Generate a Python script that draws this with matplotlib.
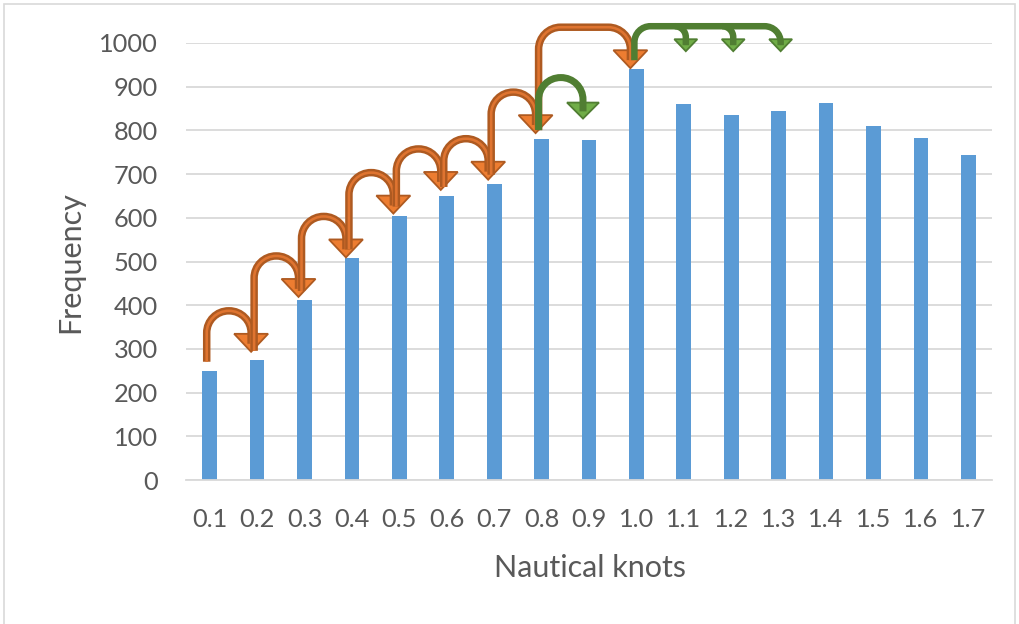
import matplotlib
matplotlib.use("Agg")
import matplotlib.pyplot as plt
import numpy as np
from matplotlib.path import Path
from matplotlib.patches import PathPatch, Polygon, Rectangle
from matplotlib.transforms import IdentityTransform

# Frequency of recorded speeds per knot bin
knots = ["0.1", "0.2", "0.3", "0.4", "0.5", "0.6", "0.7", "0.8", "0.9",
         "1.0", "1.1", "1.2", "1.3", "1.4", "1.5", "1.6", "1.7"]
frequency = [250, 275, 412, 507, 605, 650, 678, 780, 779,
             940, 860, 835, 845, 862, 810, 783, 743]
y_ticks = list(range(0, 1001, 100))

# Transition arrows between speed bins
orange_steps = [("0.1", "0.2"), ("0.2", "0.3"), ("0.3", "0.4"), ("0.4", "0.5"),
                ("0.5", "0.6"), ("0.6", "0.7"), ("0.7", "0.8"), ("0.8", "1.0")]
green_steps = [("0.8", "0.9")]
green_fan = ("1.0", ["1.1", "1.2", "1.3"])

BAR = "#5B9BD5"
GRID = "#D9D9D9"
TEXT = "#595959"
OR_FILL, OR_EDGE, OR_CORE = "#ED7D31", "#AE5A21", "#DF7430"
GR_FILL, GR_EDGE = "#70AD47", "#507E32"
FONT = "Lato"

W, H = 1019, 624
fig = plt.figure(figsize=(W / 100, H / 100), dpi=100)
ax = fig.add_axes([186 / W, 144 / H, 806 / W, 437 / H])

x = np.arange(len(knots))
ax.bar(x, frequency, width=0.31, color=BAR, zorder=2)
ax.set_xlim(-0.5, len(knots) - 0.5)
ax.set_ylim(0, 1000)
ax.set_xticks(x)
ax.set_xticklabels(knots)
ax.set_yticks(y_ticks)
ax.yaxis.grid(True, color=GRID, linewidth=1.3)
ax.set_axisbelow(True)
for side in ("top", "right", "left"):
    ax.spines[side].set_visible(False)
ax.spines["bottom"].set_color(GRID)
ax.spines["bottom"].set_linewidth(1.3)
ax.tick_params(axis="both", length=0, labelcolor=TEXT, labelsize=18.3)
ax.tick_params(axis="y", pad=20)
ax.tick_params(axis="x", pad=20)
for lab in ax.get_xticklabels() + ax.get_yticklabels():
    lab.set_fontfamily(FONT)

fig.text(70 / W, 1 - 262 / H, "Frequency", rotation=90, ha="center",
         va="center", color=TEXT, fontsize=22, fontfamily=FONT)
fig.text(590 / W, 1 - 568 / H, "Nautical knots", ha="center", va="center",
         color=TEXT, fontsize=22, fontfamily=FONT)

# light chart-area frame
fig.patches.append(Rectangle((3.5, -30), 1011.5, 620.5 + 30, fill=False,
                             edgecolor=GRID, linewidth=1.2,
                             transform=IdentityTransform()))

idx = {k: i for i, k in enumerate(knots)}
K = 0.5523
PT = 72 / 100  # points per pixel


def bar_top(key):
    return ax.transData.transform((idx[key], frequency[idx[key]]))


def rounded_route(x0, y0, x1, y1, top, r):
    r = min(r, abs(x1 - x0) / 2)
    verts = [(x0, y0), (x0, top - r),
             (x0, top - r + K * r), (x0 + r - K * r, top), (x0 + r, top),
             (x1 - r, top),
             (x1 - r + K * r, top), (x1, top - r + K * r), (x1, top - r),
             (x1, y1)]
    codes = [Path.MOVETO, Path.LINETO,
             Path.CURVE4, Path.CURVE4, Path.CURVE4,
             Path.LINETO,
             Path.CURVE4, Path.CURVE4, Path.CURVE4,
             Path.LINETO]
    return Path(verts, codes)


def drop_route(xb, top, y1, r):
    verts = [(xb - r, top), (xb - r + K * r, top), (xb, top - r + K * r),
             (xb, top - r), (xb, y1)]
    codes = [Path.MOVETO, Path.CURVE4, Path.CURVE4, Path.CURVE4, Path.LINETO]
    return Path(verts, codes)


def head(xc, tip, w, h, fill, edge):
    fig.patches.append(Polygon([(xc - w / 2, tip + h), (xc + w / 2, tip + h),
                                (xc, tip)], closed=True, facecolor=fill,
                               edgecolor=edge, linewidth=1.8 * PT,
                               joinstyle="miter",
                               transform=IdentityTransform()))


def shaft(path, color, width, core=None):
    fig.patches.append(PathPatch(path, fill=False, edgecolor=color,
                                 linewidth=width * PT, capstyle="butt",
                                 transform=IdentityTransform()))
    if core:
        fig.patches.append(PathPatch(path, fill=False, edgecolor=core,
                                     linewidth=2.6 * PT, capstyle="butt",
                                     transform=IdentityTransform()))


def step_arrow(a, b, fill, edge, core, gap, width, hw, hh):
    xa, ya = bar_top(a)
    xb, yb = bar_top(b)
    x0, x1 = xa - 3, xb - 6
    start = ya + 9
    tip = yb + gap
    top = max(start, tip) + 41
    head(x1, tip, hw, hh, fill, edge)
    shaft(rounded_route(x0, start, x1, tip + hh * 0.45, top, 22),
          edge, width, core)
    return x1, tip


orange_gaps = [8, 3, 1, 2, 6, 4, 6, 1]
last = None
for (a, b), g in zip(orange_steps, orange_gaps):
    last = step_arrow(a, b, OR_FILL, OR_EDGE, OR_CORE, g, 7.5, 34, 18)

for a, b in green_steps:
    step_arrow(a, b, GR_FILL, GR_EDGE, None, 21, 7, 32, 16)

# fan of green arrows from 1.0 across to its neighbours
src, targets = green_fan
xs = bar_top(src)[0] - 2
fan_start = last[1] + 8
fan_top = last[1] + 42
fan_tip = fan_top - 25
ends = [bar_top(t)[0] + 2 for t in targets]
for xe in ends:
    head(xe, fan_tip, 23, 12, GR_FILL, GR_EDGE)
shaft(rounded_route(xs, fan_start, ends[-1], fan_tip + 6, fan_top, 16),
      GR_EDGE, 6.5)
for xe in ends[:-1]:
    shaft(drop_route(xe, fan_top, fan_tip + 6, 11), GR_EDGE, 6.5)

fig.savefig("out.png", dpi=100)
